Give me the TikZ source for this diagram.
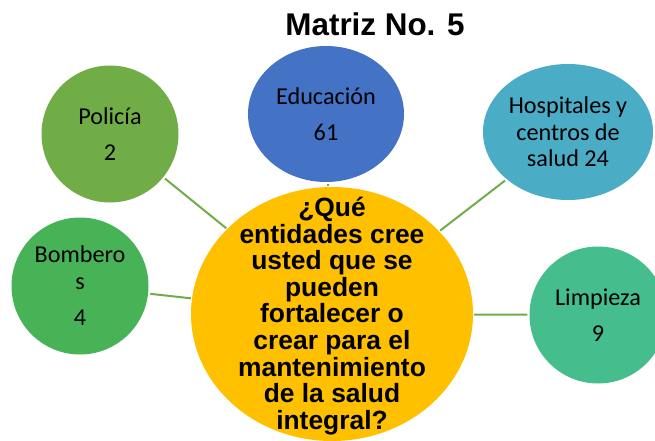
\documentclass[tikz,border=0pt]{standalone}
\usepackage{fontspec}
\setmainfont{Carlito}
\newfontfamily\arialfont{Liberation Sans}
\usetikzlibrary{shapes.geometric}
\definecolor{lineGreen}{HTML}{70AD47}
\definecolor{policeGreen}{HTML}{70AD47}
\definecolor{fireGreen}{HTML}{47B256}
\definecolor{eduBlue}{HTML}{4472C4}
\definecolor{hospTeal}{HTML}{4BACC6}
\definecolor{cleanGreen}{HTML}{45BD8D}
\definecolor{askGold}{HTML}{FFC000}
\begin{document}
\begin{tikzpicture}[x=1pt, y=-1pt,
    entity/.style={circle, minimum size=137pt, inner sep=0pt, align=center,
        font=\fontsize{24.2}{26.5}\selectfont},
    oval/.style={ellipse, minimum width=#1, minimum height=136pt, inner sep=0pt, align=center,
        font=\fontsize{24.2}{26.5}\selectfont},
    link/.style={draw=lineGreen, line width=2pt, shorten <=2pt, shorten >=1pt}]
    \useasboundingbox (0,0) rectangle (655,441);

    % Title
    \node[font=\arialfont\bfseries\fontsize{31.4}{34}\selectfont] (title) at (375,24) {Matriz No. 5};

    % Question
    \node[ellipse, fill=askGold, minimum width=282pt, minimum height=254pt, inner sep=0pt] (ask) at (332,314) {};
    \node[align=center, font=\arialfont\bfseries\fontsize{26.4}{26.6}\selectfont] (asktext) at (332,316)
        {¿Qué\\entidades cree\\usted que se\\pueden\\fortalecer o\\crear para el\\mantenimiento\\de la salud\\integral?};

    % Entities
    \node[entity, fill=policeGreen] (police) at (110,134) {Policía\\[10pt]2};
    \node[entity, fill=fireGreen] (fire) at (80,286) {Bombero\\s\\[10pt]4};
    \node[oval=156pt, fill=eduBlue] (edu) at (326,114) {Educación\\[9pt]61};
    \node[oval=170pt, fill=hospTeal] (hosp) at (568,132) {Hospitales y\\centros de\\salud 24};
    \node[entity, fill=cleanGreen] (clean) at (598,315) {Limpieza\\[10pt]9};

    % Links
    \draw[link] (police) -- (ask);
    \draw[link] (fire) -- (ask);
    \draw[link] (edu) -- (ask);
    \draw[link] (hosp) -- (ask);
    \draw[link] (clean) -- (ask);
\end{tikzpicture}
\end{document}
